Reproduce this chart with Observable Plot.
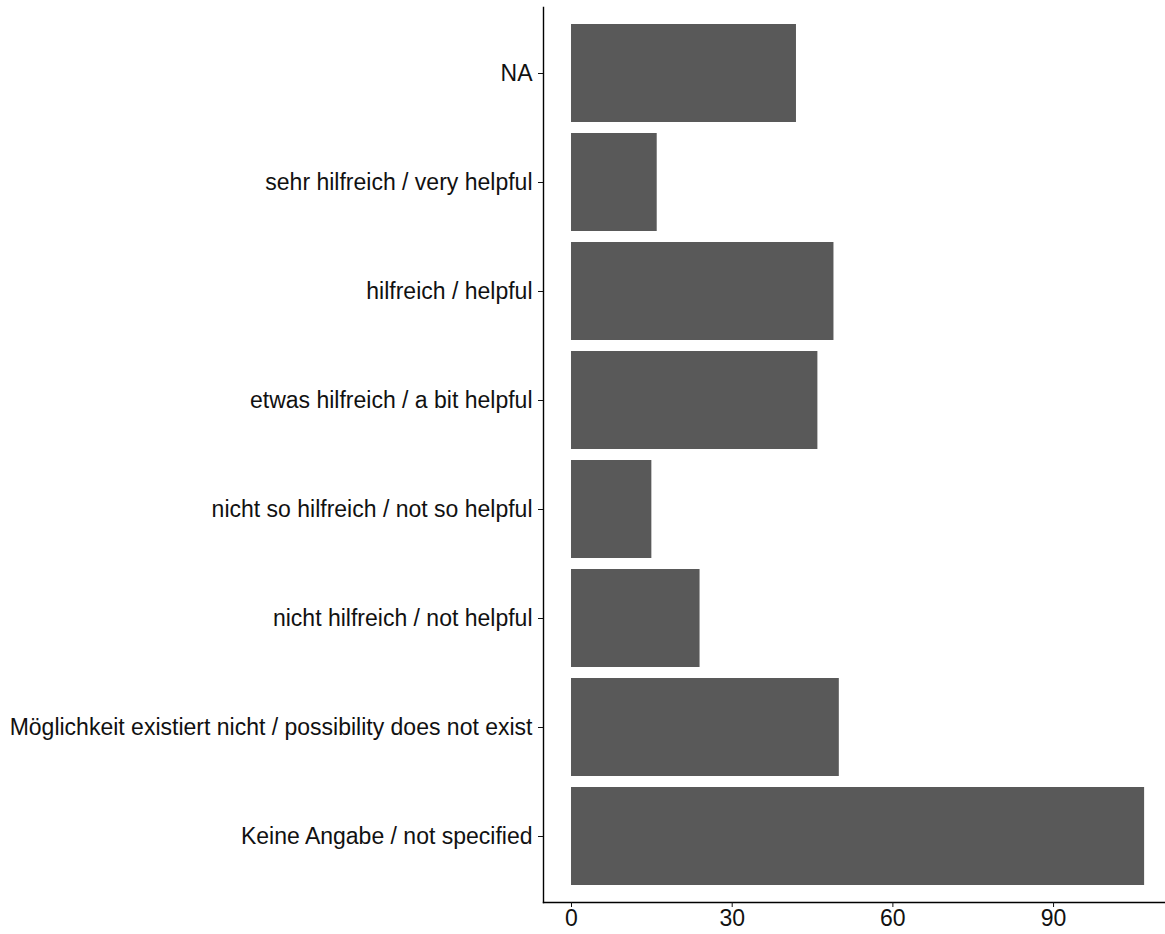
<!DOCTYPE html>
<html>
<head>
<meta charset="utf-8">
<script src="https://cdn.jsdelivr.net/npm/d3@7"></script>
<script src="https://cdn.jsdelivr.net/npm/@observablehq/plot@0.6"></script>
<style>
  html, body { margin: 0; padding: 0; background: #fff; }
  svg { display: block; }
</style>
</head>
<body>
<div id="chart"></div>
<script>
// categories from top to bottom as drawn
const categories = [
  "NA",
  "sehr hilfreich / very helpful",
  "hilfreich / helpful",
  "etwas hilfreich / a bit helpful",
  "nicht so hilfreich / not so helpful",
  "nicht hilfreich / not helpful",
  "Möglichkeit existiert nicht / possibility does not exist",
  "Keine Angabe / not specified"
];
const counts = [42, 16, 49, 46, 15, 24, 50, 107];
const xTicks = [0, 30, 60, 90];

const data = categories.map((c, i) => ({category: c, count: counts[i]}));

const chart = Plot.plot({
  width: 1165,
  height: 934,
  marginLeft: 543,
  marginRight: 0,
  marginTop: 7,
  marginBottom: 32,
  style: {fontFamily: "'Liberation Sans', Arial, Helvetica, sans-serif", background: "#fff"},
  x: {domain: [-5.23, 110.9], ticks: xTicks},
  y: {domain: categories, paddingInner: 0.1, paddingOuter: 0.15},
  marks: [
    Plot.barX(data, {x: "count", y: "category", fill: "#595959"}),
    Plot.frame({anchor: "left", stroke: "#000", strokeWidth: 1.4}),
    Plot.frame({anchor: "bottom", stroke: "#000", strokeWidth: 1.4}),
    Plot.axisX({ticks: xTicks, tickSize: 5, tickPadding: 2, fontSize: 23, label: null, color: "#111", stroke: "#111"}),
    Plot.axisY({tickSize: 5, tickPadding: 6, fontSize: 23, label: null, color: "#111", stroke: "#111", textOverflow: null})
  ]
});
document.getElementById("chart").appendChild(chart);
</script>
</body>
</html>
